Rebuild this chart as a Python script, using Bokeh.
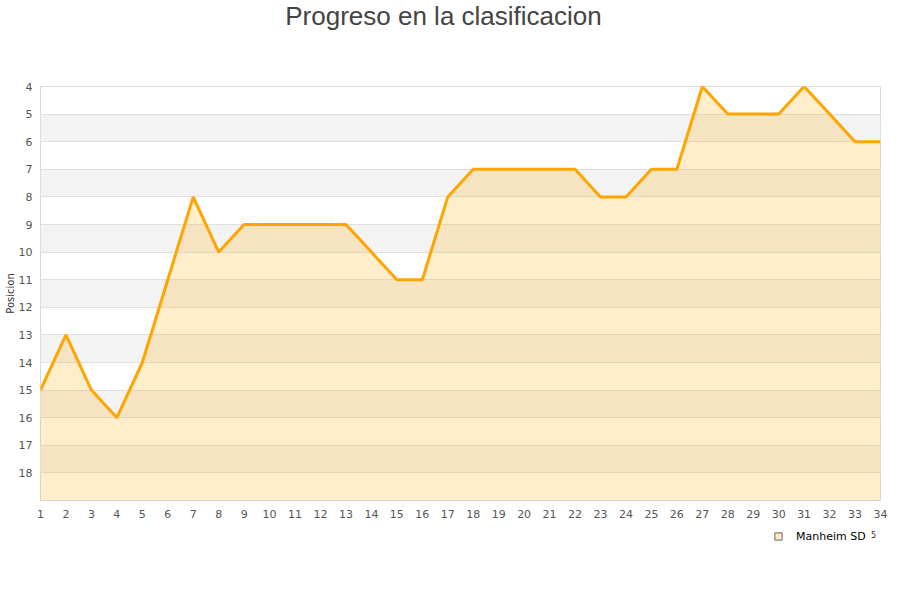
from bokeh.plotting import figure
from bokeh.layouts import column
from bokeh.models import Range1d, FixedTicker, Legend, LegendItem, Label
from bokeh.embed import file_html
from bokeh.resources import INLINE

jornadas = list(range(1, 35))
posiciones = [15, 13, 15, 16, 14, 11, 8, 10, 9, 9, 9, 9, 9, 10, 11, 11, 8, 7, 7, 7,
              7, 7, 8, 8, 7, 7, 4, 5, 5, 5, 4, 5, 6, 6]
equipo = "Manheim SD"
titulo = "Progreso en la clasificacion"
y_ticks = list(range(4, 19))
y_min, y_max = 4, 19


def strip(h):
    f = figure(width=900, height=h, output_backend="svg", toolbar_location=None,
               title=None,
               x_range=Range1d(1, 2), y_range=Range1d(1, 2),
               x_axis_location=None, y_axis_location=None,
               min_border_left=0, min_border_right=0, min_border_top=0, min_border_bottom=0)
    f.outline_line_color = None
    f.xgrid.visible = False
    f.ygrid.visible = False
    return f


# title strip
t = strip(40)
t.add_layout(Label(x=403, y=25, x_units="screen", y_units="screen", text=titulo,
                   text_align="center", text_baseline="alphabetic",
                   text_font="Liberation Sans", text_font_size="26px",
                   text_color="#444444"))

p = figure(width=900, height=490, output_backend="svg", toolbar_location=None,
           title=None,
           x_range=Range1d(1, 34), y_range=Range1d(y_max, y_min),
           min_border_left=40, min_border_right=20, min_border_top=46, min_border_bottom=30)

p.outline_line_color = "#d8d8d8"
p.outline_line_width = 1

p.varea(x=jornadas, y1=posiciones, y2=[y_max] * len(jornadas),
        fill_color="#ffa500", fill_alpha=0.2)
p.line(x=jornadas, y=posiciones, line_color="#ffa500", line_width=3)

p.xaxis.ticker = FixedTicker(ticks=jornadas)
p.yaxis.ticker = FixedTicker(ticks=y_ticks)
for ax in (p.xaxis[0], p.yaxis[0]):
    ax.axis_line_color = None
    ax.major_tick_line_color = None
    ax.minor_tick_line_color = None
    ax.major_tick_out = 0
    ax.major_tick_in = 0
    ax.major_label_text_font = "DejaVu Sans"
    ax.major_label_text_font_size = "11px"
    ax.major_label_text_color = "#555555"
p.yaxis.major_label_standoff = 8
p.xaxis.major_label_standoff = 9
p.yaxis.axis_label = "Posicion"
p.yaxis.axis_label_text_font = "DejaVu Sans"
p.yaxis.axis_label_text_font_size = "10px"
p.yaxis.axis_label_text_font_style = "normal"
p.yaxis.axis_label_text_color = "#333333"
p.yaxis.axis_label_standoff = 0

p.xgrid.grid_line_color = None
p.ygrid.ticker = FixedTicker(ticks=list(range(4, 20)))
p.ygrid.grid_line_color = "#e0e0e0"
p.ygrid.band_fill_color = "#f3f3f3"
p.ygrid.band_fill_alpha = 1.0

# legend strip below the chart
q = strip(70)
leg = q.scatter(x=[0], y=[0], marker="square", size=8, fill_color="#ffe9c4",
                line_color="#666666")
legend = Legend(items=[LegendItem(label=equipo, renderers=[leg])],
                location=(729, 55), orientation="horizontal",
                border_line_color=None, background_fill_alpha=0,
                label_text_font="DejaVu Sans", label_text_font_size="11px",
                label_text_color="#000000", glyph_width=18, glyph_height=18,
                label_standoff=9, label_height=18, padding=0, margin=0)
q.add_layout(legend, "center")
q.add_layout(Label(x=833, y=66, x_units="screen", y_units="screen", text="5",
                   text_align="center", text_baseline="middle",
                   text_font="DejaVu Sans", text_font_size="8px", text_color="#333333"))

layout = column(t, p, q, spacing=0)
open("out.html", "w").write(file_html(layout, INLINE))
